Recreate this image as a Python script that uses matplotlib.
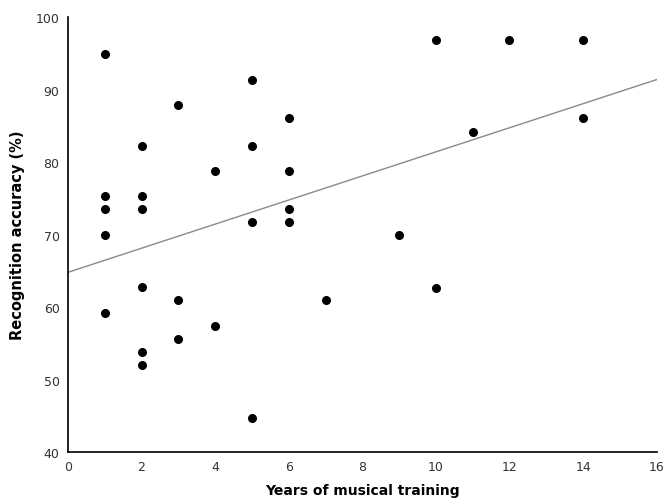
import matplotlib
matplotlib.use("Agg")
from matplotlib import pyplot as plt
import numpy as np

years = [1, 1, 1, 1, 1,
         2, 2, 2, 2, 2, 2,
         3, 3, 3,
         4, 4,
         5, 5, 5, 5,
         6, 6, 6, 6,
         7, 9, 10, 10, 11, 12, 14, 14]
accuracy = [95.0, 75.3, 73.5, 69.9, 59.2,
            82.3, 75.3, 73.5, 62.8, 53.8, 52.0,
            87.9, 61.0, 55.6,
            78.8, 57.4,
            91.4, 82.3, 71.7, 44.7,
            86.1, 78.8, 73.5, 71.7,
            61.0, 69.9, 96.8, 62.6, 84.1, 96.8, 96.8, 86.1]

# trend line
trend_x = [0, 16]
trend_y = [64.8, 91.4]

fig = plt.figure(figsize=(6.66, 5.02), dpi=100)
ax = fig.add_axes([0.102, 0.0976, 0.884, 0.866])

ax.plot(trend_x, trend_y, color="#8a8a8a", lw=1.0, zorder=1)
ax.scatter(years, accuracy, s=30, color="black", zorder=2)

ax.set_xlim(0, 16)
ax.set_ylim(40, 100)
ax.set_xticks(range(0, 17, 2))
ax.set_yticks(range(40, 101, 10))
ax.tick_params(length=0, labelsize=9, colors="#333333", pad=6)
ax.spines["top"].set_visible(False)
ax.spines["right"].set_visible(False)
ax.spines["left"].set_linewidth(1.2)
ax.spines["bottom"].set_linewidth(1.2)

ax.set_xlabel("Years of musical training", fontsize=10, fontweight="bold", labelpad=7)
ax.set_ylabel("Recognition accuracy (%)", fontsize=10.5, fontweight="bold", labelpad=8)

fig.savefig("out.png", dpi=100)
